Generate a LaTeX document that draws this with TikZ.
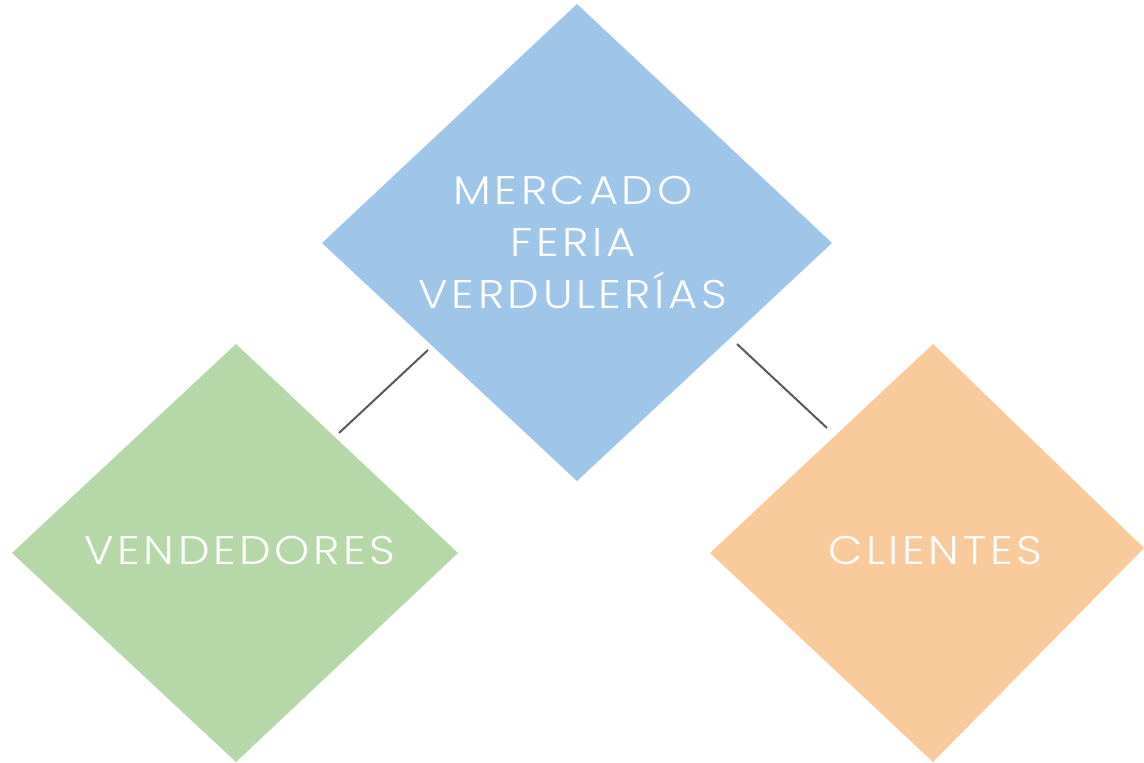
\documentclass[tikz,border=0pt]{standalone}
\usepackage{fontspec}
\setmainfont{Poppins}[UprightFont={* Light},FakeStretch=1.12,LetterSpace=9]
\definecolor{cblue}{HTML}{9FC5E8}
\definecolor{cgreen}{HTML}{B6D7A8}
\definecolor{corange}{HTML}{F9CB9C}
\definecolor{cline}{HTML}{595959}
\begin{document}
\begin{tikzpicture}[x=1pt,y=-1pt,
  lbl/.style={text=white,font=\fontsize{40}{52}\selectfont,align=center,inner sep=0pt},
  conn/.style={draw=cline,line width=2pt}]
\useasboundingbox (0,0) rectangle (1144,763);
\fill[cblue] (577,4) -- (832,243) -- (577,481) -- (322,243) -- cycle;
\fill[cgreen] (236,344) -- (458,553) -- (236,762) -- (12,553) -- cycle;
\fill[corange] (933,344) -- (1144,548) -- (933,762) -- (710,553) -- cycle;
\node[lbl] (top) at (573,242) {MERCADO\\FERIA\\VERDULERÍAS};
\node[lbl] (left) at (240,550) {VENDEDORES};
\node[lbl] (right) at (935,550) {CLIENTES};
\coordinate (a1) at (428,350);
\coordinate (a2) at (339,433);
\coordinate (b1) at (737,344);
\coordinate (b2) at (827,428);
\draw[conn] (a1) -- (a2);
\draw[conn] (b1) -- (b2);
\end{tikzpicture}
\end{document}
